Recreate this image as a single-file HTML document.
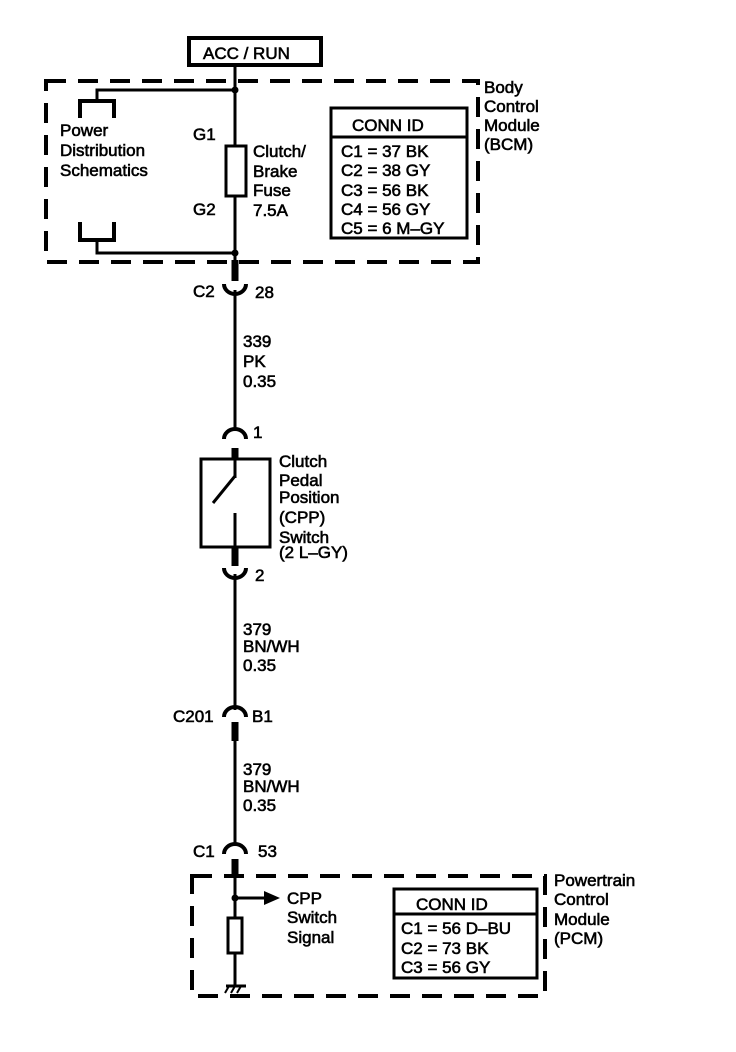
<!DOCTYPE html>
<html><head><meta charset="utf-8"><style>
html,body{margin:0;padding:0;background:#fff;}
svg{display:block;}
text{font-family:"Liberation Sans",Arial,sans-serif;font-size:17px;fill:#000;stroke:#000;stroke-width:0.6;}
</style></head><body>
<svg width="736" height="1052" viewBox="0 0 736 1052" xmlns="http://www.w3.org/2000/svg">
<g fill="none" stroke="#000">
<rect x="189" y="38" width="132" height="27" stroke-width="4"/>
<rect x="46" y="81" width="432" height="181" stroke-width="4" stroke-dasharray="20,12"/>
<line x1="235" y1="65" x2="235" y2="262" stroke-width="3"/>
<line x1="235" y1="260" x2="235" y2="281" stroke-width="7"/>
<polyline points="235,90 97,90 97,100" stroke-width="3"/>
<polyline points="80,118 80,101 114,101 114,118" stroke-width="4"/>
<polyline points="80,222 80,240 114,240 114,222" stroke-width="4"/>
<polyline points="97,240 97,253 235,253" stroke-width="3"/>
<rect x="226" y="146" width="20" height="50" stroke-width="3" fill="#fff"/>
<rect x="331" y="108" width="136" height="130" stroke-width="3"/>
<line x1="331" y1="137" x2="467" y2="137" stroke-width="3"/>
<path d="M224,284 A11,10 0 0 0 246,284" stroke-width="4"/>
<line x1="235" y1="290" x2="235" y2="430" stroke-width="3"/>
<path d="M224,439 A11,10 0 0 1 246,439" stroke-width="4"/>
<line x1="235" y1="448" x2="235" y2="460" stroke-width="7"/>
<line x1="235" y1="458" x2="235" y2="478" stroke-width="3"/>
<rect x="201" y="459" width="69" height="88" stroke-width="3"/>
<line x1="235" y1="476" x2="213" y2="503" stroke-width="3"/>
<line x1="235" y1="513" x2="235" y2="566" stroke-width="3"/>
<line x1="235" y1="546" x2="235" y2="566" stroke-width="7"/>
<path d="M224,568 A11,10 0 0 0 246,568" stroke-width="4"/>
<line x1="235" y1="574" x2="235" y2="710" stroke-width="3"/>
<path d="M224,717 A11,10 0 0 1 246,717" stroke-width="4"/>
<line x1="235" y1="722" x2="235" y2="741" stroke-width="7"/>
<line x1="235" y1="740" x2="235" y2="846" stroke-width="3"/>
<path d="M224,854 A11,10 0 0 1 246,854" stroke-width="4"/>
<line x1="235" y1="859" x2="235" y2="878" stroke-width="7"/>
<rect x="192" y="876" width="353" height="120" stroke-width="4" stroke-dasharray="20,12"/>
<line x1="235" y1="876" x2="235" y2="985" stroke-width="3"/>
<line x1="235" y1="898" x2="266" y2="898" stroke-width="3"/>
<rect x="228" y="918" width="14" height="35" stroke-width="3" fill="#fff"/>
<line x1="226" y1="986" x2="246" y2="986" stroke-width="3"/>
<line x1="229" y1="986" x2="225" y2="993" stroke-width="2"/>
<line x1="235" y1="986" x2="231" y2="993" stroke-width="2"/>
<line x1="241" y1="986" x2="237" y2="993" stroke-width="2"/>
<rect x="394" y="889" width="143" height="89" stroke-width="3"/>
<line x1="394" y1="914" x2="537" y2="914" stroke-width="3"/>
</g>
<polygon points="264,891 280,898 264,905" fill="#000"/>
<circle cx="235" cy="90" r="3.5" fill="#000"/>
<circle cx="235" cy="253" r="3.5" fill="#000"/>
<circle cx="235" cy="898" r="3.5" fill="#000"/>
<text x="203" y="59" font-size="18">ACC / RUN</text>
<text x="484" y="93">Body</text>
<text x="484" y="112">Control</text>
<text x="484" y="131">Module</text>
<text x="484" y="150">(BCM)</text>
<text x="60" y="136">Power</text>
<text x="60" y="156">Distribution</text>
<text x="60" y="176">Schematics</text>
<text x="193" y="140">G1</text>
<text x="193" y="215">G2</text>
<text x="253" y="157">Clutch/</text>
<text x="253" y="177">Brake</text>
<text x="253" y="196">Fuse</text>
<text x="253" y="216">7.5A</text>
<text x="352" y="131" font-size="19">CONN ID</text>
<text x="341" y="157">C1 = 37 BK</text>
<text x="341" y="176">C2 = 38 GY</text>
<text x="341" y="196">C3 = 56 BK</text>
<text x="341" y="215">C4 = 56 GY</text>
<text x="341" y="234">C5 = 6 M–GY</text>
<text x="193" y="297">C2</text>
<text x="255" y="298">28</text>
<text x="243" y="347">339</text>
<text x="243" y="367">PK</text>
<text x="243" y="387">0.35</text>
<text x="253" y="438">1</text>
<text x="279" y="467">Clutch</text>
<text x="279" y="486">Pedal</text>
<text x="279" y="503">Position</text>
<text x="279" y="523">(CPP)</text>
<text x="279" y="543">Switch</text>
<text x="279" y="558">(2 L–GY)</text>
<text x="255" y="581">2</text>
<text x="243" y="635">379</text>
<text x="243" y="652">BN/WH</text>
<text x="243" y="671">0.35</text>
<text x="173" y="722">C201</text>
<text x="252" y="722">B1</text>
<text x="243" y="775">379</text>
<text x="243" y="792">BN/WH</text>
<text x="243" y="811">0.35</text>
<text x="193" y="857">C1</text>
<text x="258" y="857">53</text>
<text x="287" y="904">CPP</text>
<text x="287" y="923">Switch</text>
<text x="287" y="943">Signal</text>
<text x="416" y="910" font-size="19">CONN ID</text>
<text x="401" y="934">C1 = 56 D–BU</text>
<text x="401" y="954">C2 = 73 BK</text>
<text x="401" y="973">C3 = 56 GY</text>
<text x="554" y="886">Powertrain</text>
<text x="554" y="905">Control</text>
<text x="554" y="925">Module</text>
<text x="554" y="944">(PCM)</text>
</svg>
</body></html>
